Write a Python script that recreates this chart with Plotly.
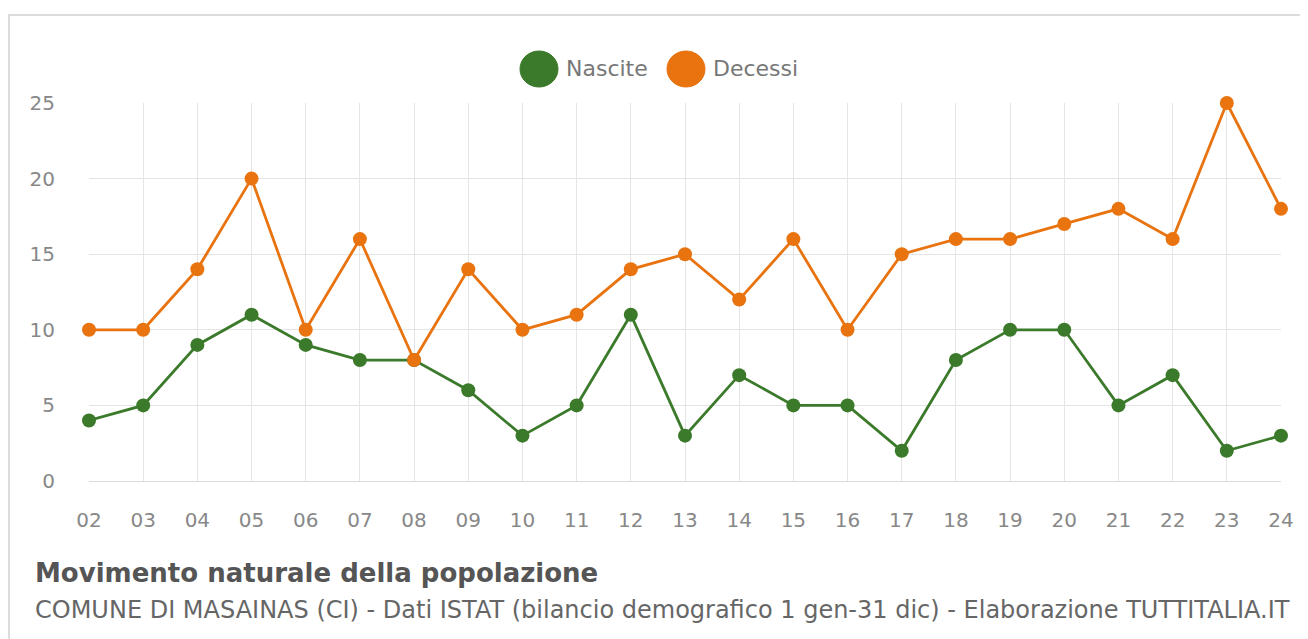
import plotly.graph_objects as go

anni = ["02","03","04","05","06","07","08","09","10","11","12","13","14","15","16","17","18","19","20","21","22","23","24"]
nascite = [4,5,9,11,9,8,8,6,3,5,11,3,7,5,5,2,8,10,10,5,7,2,3]
decessi = [10,10,14,20,10,16,8,14,10,11,14,15,12,16,10,15,16,16,17,18,16,25,18]
y_ticks = [0,5,10,15,20,25]
serie = ["Nascite", "Decessi"]

GREEN = "#3b7a2a"
ORANGE = "#e8730f"
FONT = "DejaVu Sans, Liberation Sans, Arial, sans-serif"

fig = go.Figure()
fig.add_trace(go.Scatter(x=anni, y=nascite, name=serie[0], mode="lines+markers",
                         line=dict(color=GREEN, width=2.8),
                         marker=dict(color=GREEN, size=14), cliponaxis=False,
                         showlegend=False))
fig.add_trace(go.Scatter(x=anni, y=decessi, name=serie[1], mode="lines+markers",
                         line=dict(color=ORANGE, width=2.8),
                         marker=dict(color=ORANGE, size=14), cliponaxis=False,
                         showlegend=False))

# page body has an 8px margin: work in screenshot coordinates and shift
OFF = 8
W, H = 1308 - OFF, 639 - OFF
L = 89 - OFF
Rpx = 1281 - OFF
Tpx = 103 - OFF
Bpx = 481 - OFF
R = W - Rpx
B = H - Bpx
pw, ph = Rpx - L, Bpx - Tpx

def px(x):
    return (x - OFF - L) / pw

def py(y):
    return (Bpx - (y - OFF)) / ph

shapes = [dict(type="rect", xref="paper", yref="paper",
               x0=px(9), x1=px(1306), y0=py(640), y1=py(15),
               line=dict(color="#dcdcdc", width=2), fillcolor="rgba(0,0,0,0)", layer="below")]
annotations = []

# custom legend (large circles, as in the reference)
legend_items = [(serie[0], GREEN, 539, 564), (serie[1], ORANGE, 686, 711)]
for name, col, cx, tx in legend_items:
    shapes.append(dict(type="circle", xref="paper", yref="paper",
                       x0=px(cx - 19), x1=px(cx + 19), y0=py(69 + 18), y1=py(69 - 18),
                       fillcolor=col, line=dict(color=col, width=1)))
    annotations.append(dict(text=name, xref="paper", yref="paper", x=px(tx), y=py(69),
                            xanchor="left", yanchor="middle", showarrow=False,
                            font=dict(family=FONT, size=22, color="#777")))

annotations += [
    dict(text="<b>Movimento naturale della popolazione</b>", xref="paper", yref="paper",
         x=px(33), y=py(573), xanchor="left", yanchor="middle", showarrow=False,
         font=dict(family=FONT, size=26, color="#555")),
    dict(text="COMUNE DI MASAINAS (CI) - Dati ISTAT (bilancio demografico 1 gen-31 dic) - Elaborazione TUTTITALIA.IT",
         xref="paper", yref="paper", x=px(33), y=py(610), xanchor="left", yanchor="middle",
         showarrow=False, font=dict(family=FONT, size=24, color="#666")),
]

fig.update_layout(
    width=W, height=H,
    margin=dict(l=L, r=R, t=Tpx, b=B),
    paper_bgcolor="white", plot_bgcolor="white",
    font=dict(family=FONT, color="#888"),
    showlegend=False,
    xaxis=dict(type="category", range=[0, len(anni) - 1], showgrid=True,
               gridcolor="#e4e4e4", gridwidth=1, zeroline=False, showline=False,
               tickfont=dict(size=20, color="#888"), ticks="", ticklabelstandoff=25,
               fixedrange=True),
    yaxis=dict(range=[0, 25], tickvals=y_ticks, showgrid=True, gridcolor="#e4e4e4",
               zeroline=True, zerolinecolor="#dcdcdc", zerolinewidth=1, showline=False,
               tickfont=dict(size=20, color="#888"), ticks="", ticklabelstandoff=33,
               fixedrange=True),
    shapes=shapes,
    annotations=annotations,
)

fig.write_html("out.html")
